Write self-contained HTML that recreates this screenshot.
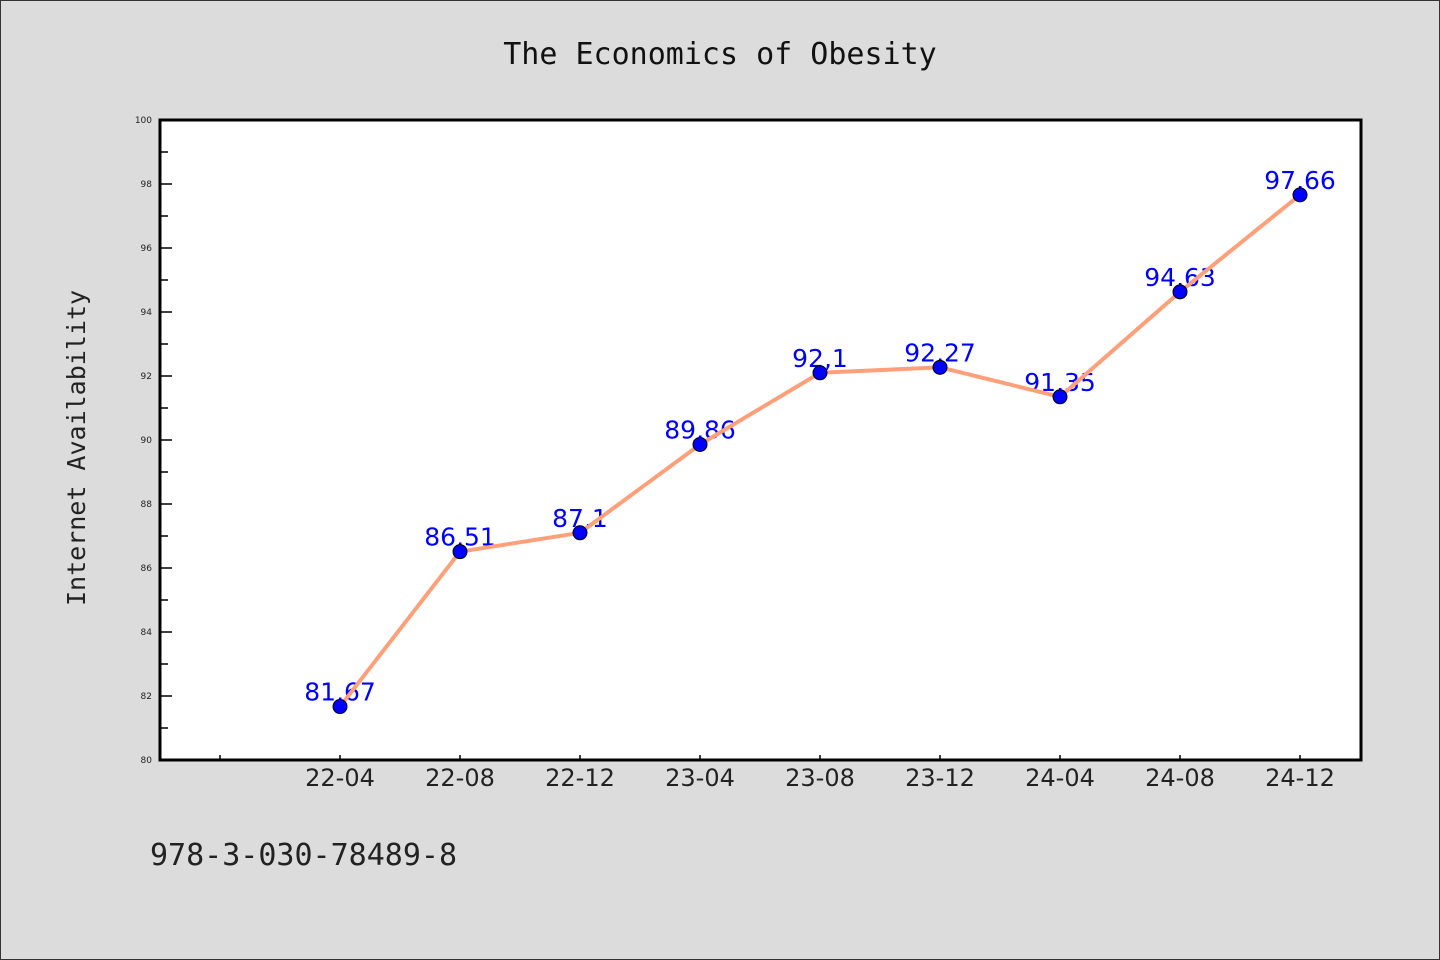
<!DOCTYPE html>
<html><head><meta charset="utf-8"><style>
body{margin:0;background:#dcdcdc}
svg{display:block}
</style></head><body>
<svg width="1440" height="960" viewBox="0 0 1440 960" xmlns="http://www.w3.org/2000/svg">
<rect x="0.5" y="0.5" width="1439" height="959" fill="#dcdcdc" stroke="#333"/>
<text x="720" y="64" text-anchor="middle" font-family="'WenQuanYi Zen Hei','DejaVu Sans Mono',monospace" font-size="30" fill="#111">The Economics of Obesity</text>
<rect x="160" y="120" width="1201" height="640" fill="#fff"/>
<g id="axes"></g>
<g id="labels"></g>
<g id="series"></g>
<rect x="160" y="120" width="1201" height="640" fill="none" stroke="#000" stroke-width="3"/>
<text transform="translate(85,448) rotate(-90)" text-anchor="middle" font-family="'WenQuanYi Zen Hei','DejaVu Sans Mono',monospace" font-size="25" fill="#222">Internet Availability</text>
<text x="150" y="865" font-family="'WenQuanYi Zen Hei','DejaVu Sans Mono',monospace" font-size="30" fill="#222">978-3-030-78489-8</text>
</svg>
<script>
const categories = ["22-04","22-08","22-12","23-04","23-08","23-12","24-04","24-08","24-12"];
const values = [81.67,86.51,87.1,89.86,92.1,92.27,91.35,94.63,97.66];
const valueLabels = ["81,67","86,51","87,1","89,86","92,1","92,27","91,35","94,63","97,66"];
const yTicks = [80,82,84,86,88,90,92,94,96,98,100];
const NS="http://www.w3.org/2000/svg";
const yMin=80,yMax=100,plotTop=120,plotBottom=760,plotLeft=160;
function yScale(v){return plotBottom-(v-yMin)/(yMax-yMin)*(plotBottom-plotTop);}
function xScale(i){return 340+i*120;}
function mk(tag,attrs,parent){const e=document.createElementNS(NS,tag);for(const k in attrs)e.setAttribute(k,attrs[k]);parent.appendChild(e);return e;}
const axes=document.getElementById('axes'),labels=document.getElementById('labels'),series=document.getElementById('series');
yTicks.forEach((t,i)=>{
  const y=yScale(t);
  const l=mk('line',{x1:plotLeft,x2:plotLeft+12,y1:y,y2:y,stroke:'#000','stroke-width':1.5},axes);
  
  
  const tx=mk('text',{x:152,y:y+3,'text-anchor':'end','font-family':'DejaVu Sans,sans-serif','font-size':9,fill:'#222'},axes);
  tx.textContent=t;
  
  
  if(i<yTicks.length-1){
    const ym=yScale(t+1);
    const m=mk('line',{x1:plotLeft,x2:plotLeft+8,y1:ym,y2:ym,stroke:'#000','stroke-width':1.5},axes);
    
    
  }
});
[-1].concat(categories.map((c,i)=>i)).forEach(i=>{
  const x=xScale(i);
  const l=mk('line',{x1:x,x2:x,y1:plotBottom,y2:plotBottom-5,stroke:'#000','stroke-width':1.5},axes);
  
  
  if(i>=0){
    const tx=mk('text',{x:x,y:786,'text-anchor':'middle','font-family':"'WenQuanYi Zen Hei','DejaVu Sans',sans-serif",'font-size':24,fill:'#222'},axes);
    tx.textContent=categories[i];
    
    
  }
});
values.forEach((v,i)=>{
  const tx=mk('text',{x:xScale(i),y:yScale(v)-6,'text-anchor':'middle','font-family':'DejaVu Sans,sans-serif','font-size':25,fill:'#0000ff'},labels);
  tx.textContent=valueLabels[i];
  
  
});
const pl=mk('polyline',{points:values.map((v,i)=>xScale(i)+','+yScale(v)).join(' '),fill:'none',stroke:'#ffa07a','stroke-width':4,'stroke-linejoin':'round'},series);


values.forEach((v,i)=>{
  const c=mk('circle',{cx:xScale(i),cy:yScale(v),r:7,fill:'#0000ff',stroke:'#000','stroke-width':1},series);
  
  
});
</script>
</body></html>
